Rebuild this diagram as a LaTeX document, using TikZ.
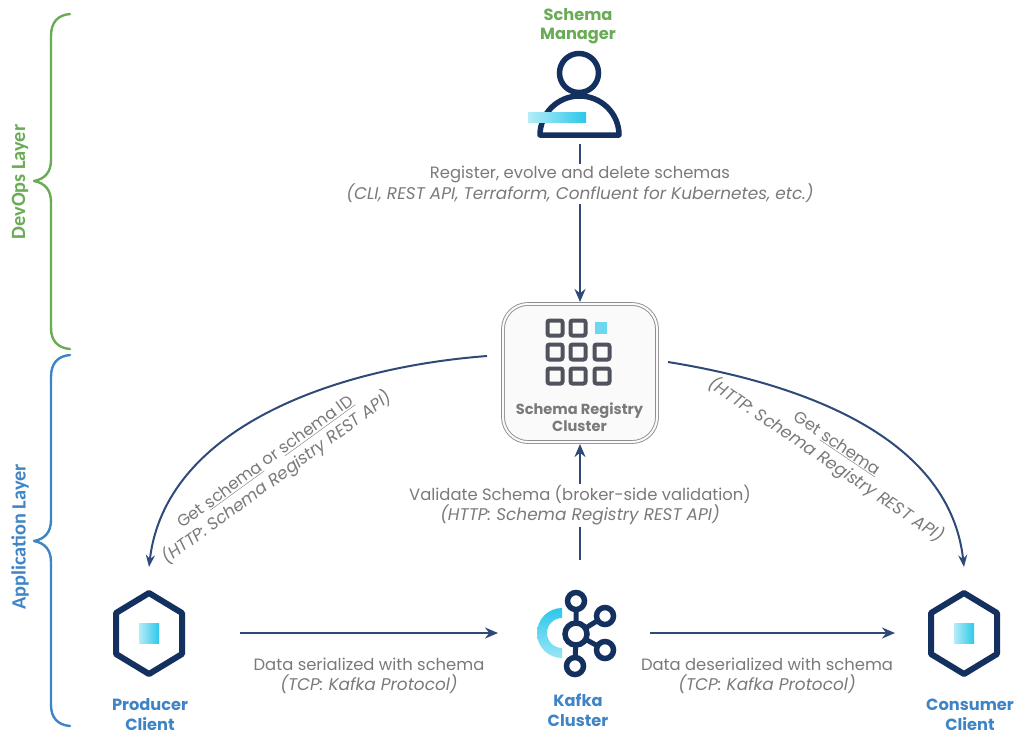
\documentclass[tikz,border=0pt]{standalone}
\usepackage{fontspec}
\setmainfont{Poppins}
\newfontfamily\bracefont{Carlito}
\usetikzlibrary{arrows.meta,calc}
\definecolor{navy}{HTML}{14305F}
\definecolor{arrowblue}{HTML}{2F4A78}
\definecolor{labelgray}{HTML}{7A7A7A}
\definecolor{greenl}{HTML}{6AAB55}
\definecolor{bluel}{HTML}{3F85C6}
\definecolor{cyanA}{HTML}{B5ECF8}
\definecolor{cyanB}{HTML}{2CC8EA}
\definecolor{cellgray}{HTML}{50525E}
\newcommand{\slnt}[1]{{\fontsize{16.9}{20}\selectfont\itshape #1}}
\tikzset{
  slot/.style={inner sep=0pt,outer sep=0pt,draw=none},
  link/.style={draw=arrowblue,line width=2.6pt,-{Stealth[length=13pt,width=11pt]}},
  thinlink/.style={draw=arrowblue,line width=2pt,-{Stealth[length=12pt,width=9pt]}},
  note/.style={text=labelgray,font=\fontsize{16.4}{20}\selectfont,align=center,inner sep=0pt},
  clear/.style={note,fill=white,inner ysep=2pt,inner xsep=3pt},
  greenname/.style={text=greenl,font=\fontsize{16.2}{19.5}\selectfont\bfseries,align=center,inner sep=0pt},
  bluename/.style={text=bluel,font=\fontsize{16.2}{20}\selectfont\bfseries,align=center,inner sep=0pt},
  layerlabel/.style={font=\bracefont\fontsize{20.3}{20}\selectfont\bfseries,rotate=90,inner sep=0pt},
  bracepath/.style={line width=2.4pt,line cap=round,line join=round},
  navyline/.style={draw=navy,line width=5.5pt},
  hexa/.style={draw=navy,line width=6pt,line join=round,fill=white},
  cell/.style={draw=cellgray,line width=4pt,rounded corners=2pt},
  cyangrad/.style={left color=cyanA,right color=cyanB,draw=none},
}
\begin{document}
\begin{tikzpicture}[x=1pt,y=-1pt]
\useasboundingbox (0,0) rectangle (1024,740);
\fill[white] (0,0) rectangle (1024,740);

% slots holding the icons
\node[slot,minimum width=100pt,minimum height=102pt] (manager) at (580,93) {};
\node[slot,minimum width=182pt,minimum height=132pt] (producer) at (149,633) {};
\node[slot,minimum width=152pt,minimum height=146pt] (kafka) at (574,633) {};
\node[slot,minimum width=138pt,minimum height=132pt] (consumer) at (964,633) {};

% registry
\node[draw=labelgray!85,line width=0.9pt,double=black!2,double distance=2pt,
      rounded corners=25pt,minimum width=154pt,minimum height=138pt,inner sep=0pt,outer sep=2pt,
      fill=black!2] (registry) at (580,373) {};
\foreach \cx/\cy in {555/328,578/328,555/352,578/352,602/352,555/376,578/376,602/376}
  \draw[cell] (\cx-7.5,\cy-7.5) rectangle (\cx+7.5,\cy+7.5);
\fill[cyanB!70!white] (595,322) rectangle (607,334);
\node[text=labelgray,font=\fontsize{14.6}{17}\selectfont\bfseries,align=center,inner sep=0pt] (registryname) at (579.5,417) {Schema Registry\\Cluster};

% manager icon
\draw[navyline,fill=white,line join=round] (540,135) arc[start angle=180,end angle=0,x radius=39.5pt,y radius=39pt] -- cycle;
\draw[navyline,fill=white] (579,73) circle (19.5pt);
\shade[cyangrad] (528,112) rectangle (586,122);
\node[greenname] (managername) at (578,26) {Schema\\Manager};

% client icons
\foreach \c/\dx in {149/0,964/0}{
  \draw[hexa] (\c,593) -- (\c+33,613) -- (\c+33,654) -- (\c,674) -- (\c-33,654) -- (\c-33,613) -- cycle;
  \shade[cyangrad] (\c-10,623) rectangle (\c+10,643);
}
\node[bluename] (producername) at (150,715) {Producer\\Client};
\node[bluename] (consumername) at (970,715) {Consumer\\Client};

% kafka icon
\shade[top color=cyanB,bottom color=cyanA!80!cyanB]
  (562,608) arc[start angle=90,end angle=270,radius=25pt] -- (562,648)
  arc[start angle=270,end angle=90,radius=15pt] -- cycle;
\draw[navy,line width=5pt]
  (576,634) -- (576,601) (576,634) -- (605,616) (576,634) -- (605,650) (576,634) -- (575,666);
\foreach \kx/\ky in {576/601,605/616,605/650,575/666}
  \draw[navy,line width=5.5pt,fill=white] (\kx,\ky) circle (8.5pt);
\draw[navy,line width=5.5pt,fill=white] (576,634) circle (11pt);
\node[bluename] (kafkaname) at (578,710) {Kafka\\Cluster};

% connectors
\draw[link] (manager.south) -- (registry.north);
\draw[link] (kafka.north -| registry.south) -- (registry.south);
\draw[link,line width=2.2pt] (producer.east) -- (kafka.west);
\draw[link,line width=2.2pt] (kafka.east) -- (consumer.west);
\draw[thinlink] ([xshift=-14pt,yshift=17pt]registry.west) .. controls (330,368) and (165,430) .. (producer.north);
\draw[thinlink] ([xshift=9pt,yshift=11pt]registry.east) .. controls (810,385) and (950,440) .. (consumer.north);

% labels
\node[clear] (lbltop) at (580,184) {Register, evolve and delete schemas\\\slnt{(CLI, REST API, Terraform, Confluent for Kubernetes, etc.)}};
\node[clear] (lblmid) at (580,505.5) {Validate Schema (broker-side validation)\\\slnt{(HTTP: Schema Registry REST API)}};
\node[note] (lblprod) at (369,675.5) {Data serialized with schema\\\slnt{(TCP: Kafka Protocol)}};
\node[note] (lblcons) at (767,675.5) {Data deserialized with schema\\\slnt{(TCP: Kafka Protocol)}};
\node[note,rotate=36] (lblleft) at (272,471) {Get \underline{schema} or \underline{schema ID}\\\slnt{(HTTP: Schema Registry REST API)}};
\node[note,rotate=-34] (lblright) at (831,453) {Get \underline{schema}\\\slnt{(HTTP: Schema Registry REST API)}};

% layer braces
\draw[greenl,bracepath] (70,14) .. controls (58,15) and (51,22) .. (51,36) -- (51,160)
  .. controls (51,172) and (45,179) .. (34,181) .. controls (45,183) and (51,190) .. (51,202)
  -- (51,328) .. controls (51,341) and (58,348) .. (70,349);
\draw[bluel,bracepath] (70,355) .. controls (58,356) and (51,363) .. (51,377) -- (51,520)
  .. controls (51,532) and (45,539) .. (34,541) .. controls (45,543) and (51,550) .. (51,562)
  -- (51,705) .. controls (51,718) and (58,725) .. (70,726);
\node[layerlabel,text=greenl] (devops) at (20,182) {DevOps Layer};
\node[layerlabel,text=bluel] (applayer) at (20,537) {Application Layer};
\end{tikzpicture}
\end{document}
